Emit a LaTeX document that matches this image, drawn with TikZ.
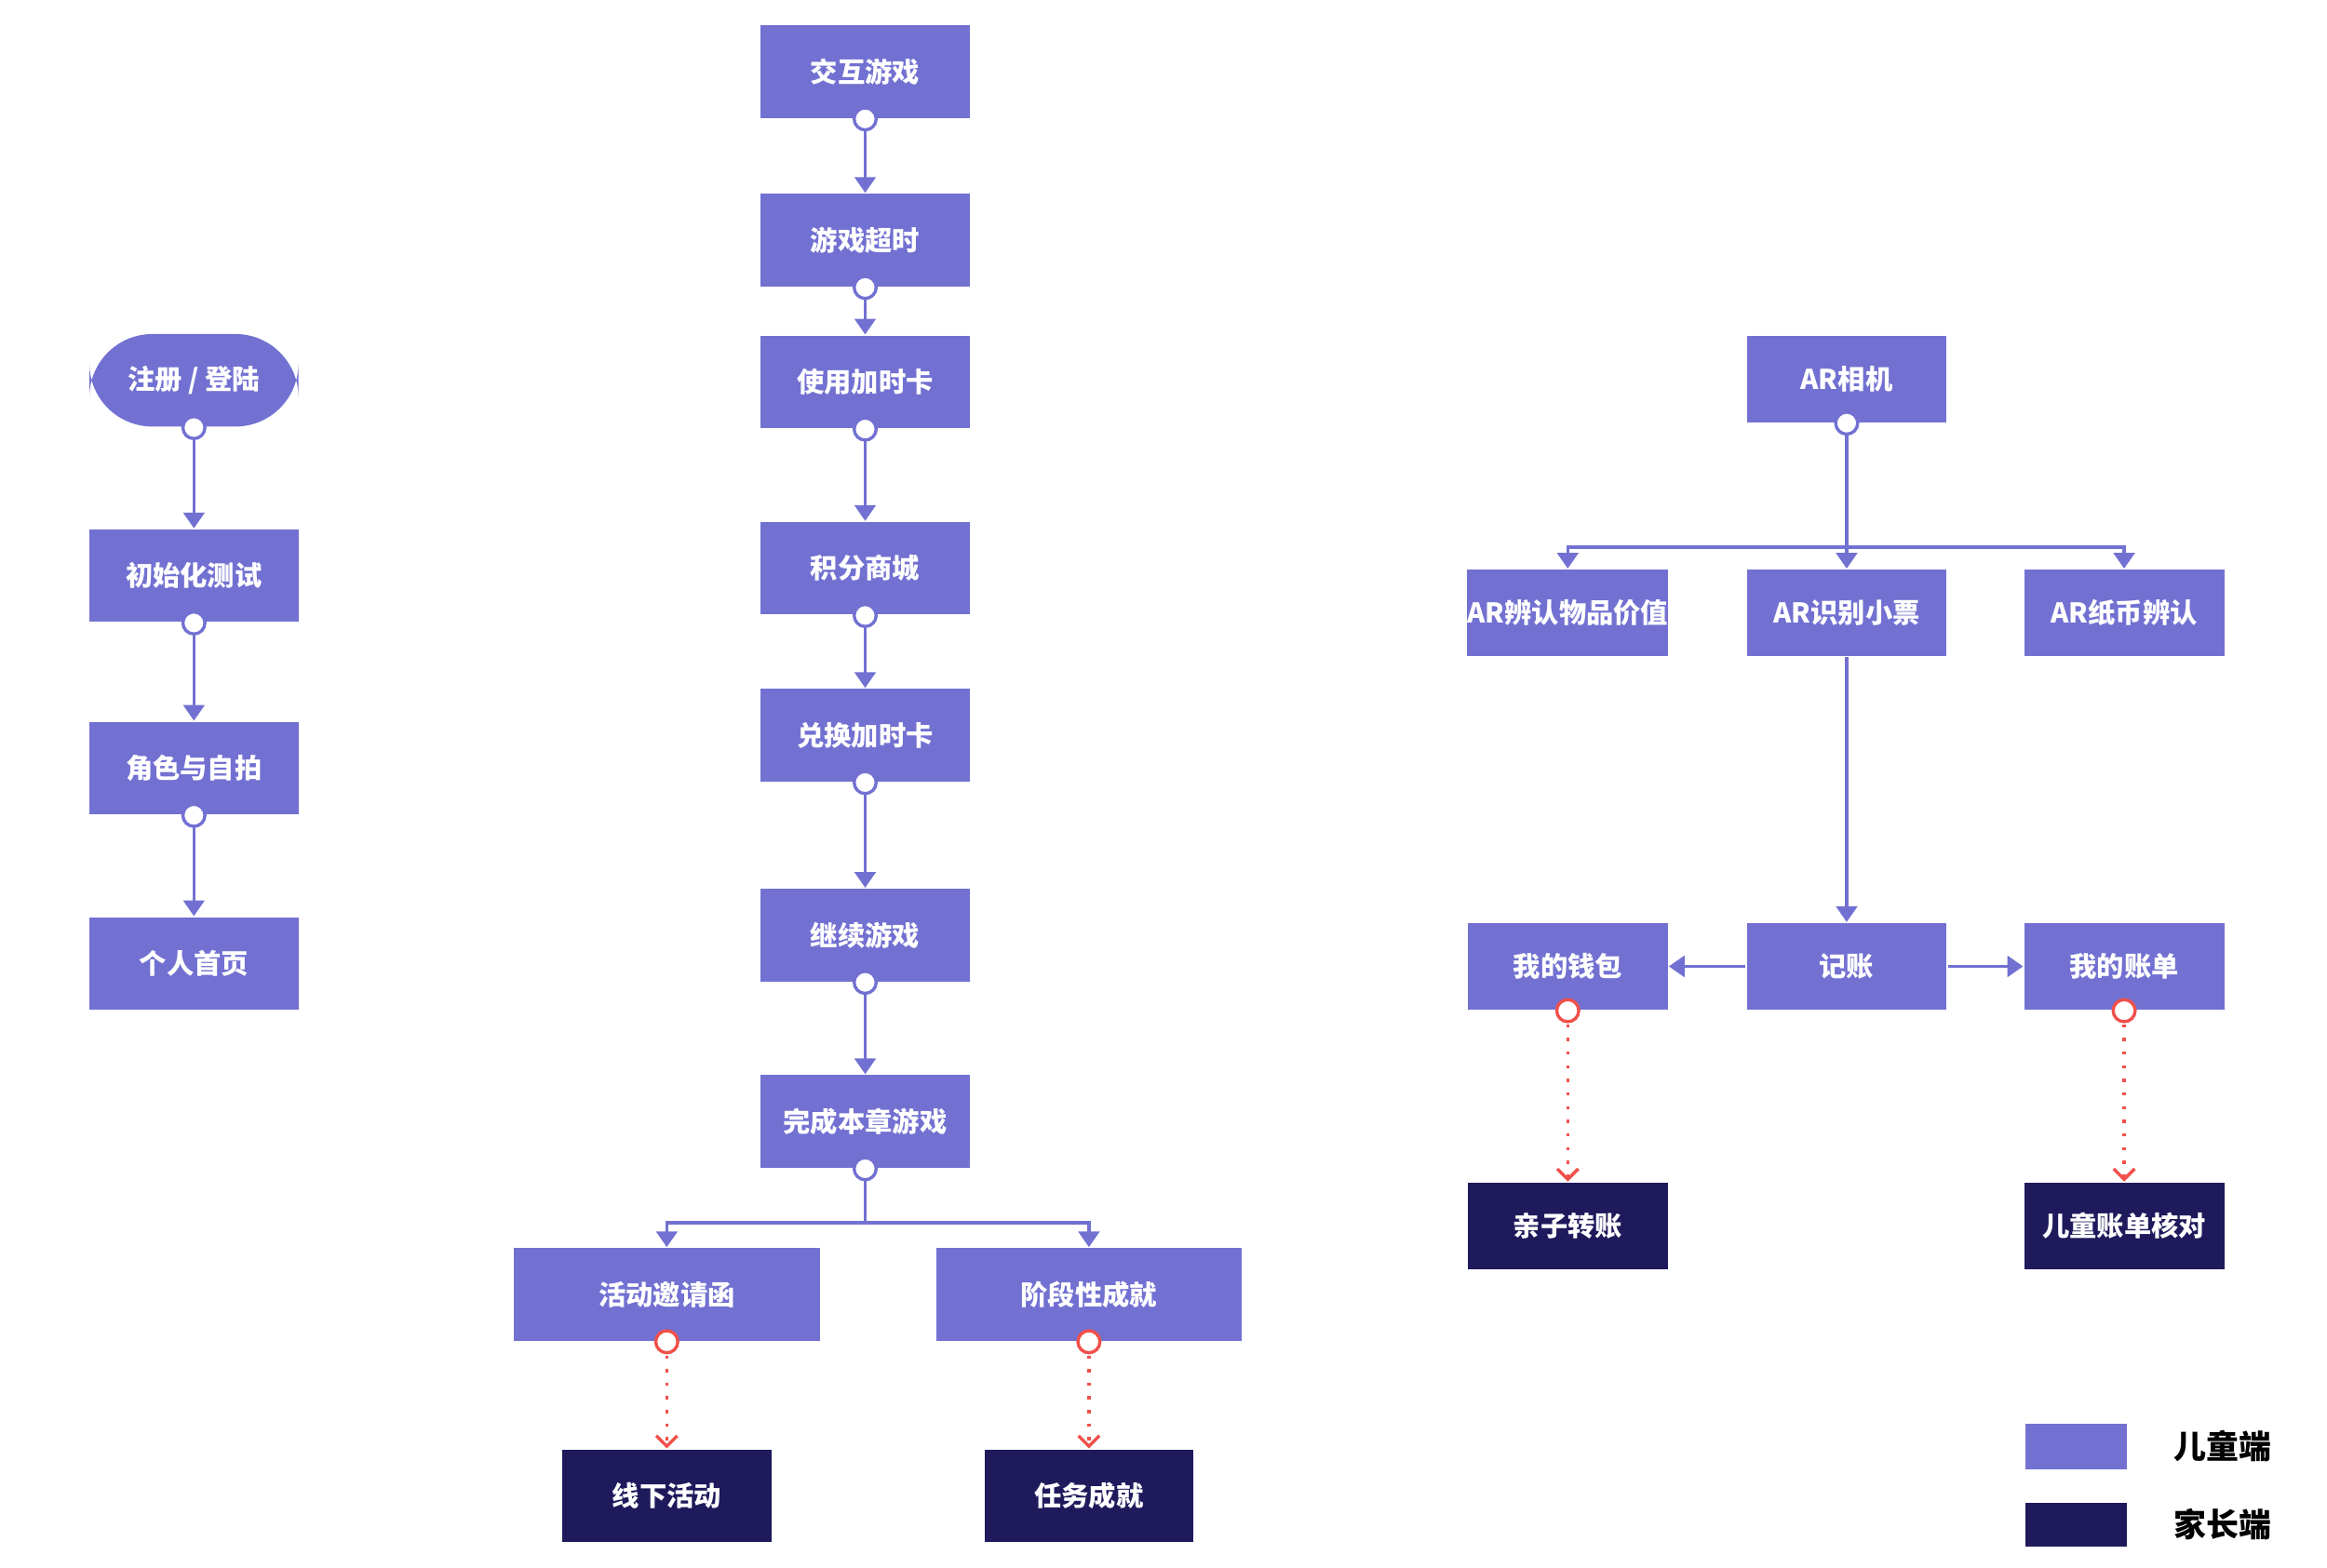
\documentclass[tikz,border=0pt]{standalone}
\usepackage{fontspec}
\setmainfont{Noto Sans CJK SC}
\usetikzlibrary{arrows.meta}
\definecolor{kidc}{HTML}{7271D2}
\definecolor{parc}{HTML}{1F1A5C}
\definecolor{redc}{HTML}{F0504A}
\tikzset{
  box/.style={minimum width=140\pgflinewidth,minimum height=62\pgflinewidth},
  kid/.style={fill=kidc,text=white,inner sep=0pt,font=\fontsize{5.2}{6}\selectfont\bfseries},
  par/.style={fill=parc,text=white,inner sep=0pt,font=\fontsize{5.2}{6}\selectfont\bfseries},
  link/.style={draw=kidc,line width=0.6pt,-{Triangle[length=3pt,width=4pt]}},
  dlink/.style={draw=redc,line width=0.6pt,dotted,-{Straight Barb[length=2pt,width=4pt,line width=0.6pt,sep=0pt]}},
  dot/.style={circle,draw=kidc,fill=white,line width=0.6pt,inner sep=0pt,minimum size=4.2pt},
  rdot/.style={dot,draw=redc},
}
\begin{document}
\begin{tikzpicture}[x=0.01cm,y=-0.01cm]
\useasboundingbox (0,0) rectangle (1560,1051);
% left column
\node[kid,rounded corners=12pt,minimum width=1.4cm,minimum height=0.62cm] (reg) at (130,255) {注册 / 登陆};
\node[kid,minimum width=1.4cm,minimum height=0.62cm] (init) at (130,386) {初始化测试};
\node[kid,minimum width=1.4cm,minimum height=0.62cm] (role) at (130,515) {角色与自拍};
\node[kid,minimum width=1.4cm,minimum height=0.62cm] (home) at (130,646) {个人首页};
% middle column
\node[kid,minimum width=1.4cm,minimum height=0.62cm] (game)   at (580,48)  {交互游戏};
\node[kid,minimum width=1.4cm,minimum height=0.62cm] (tout)   at (580,161) {游戏超时};
\node[kid,minimum width=1.4cm,minimum height=0.62cm] (usec)   at (580,256) {使用加时卡};
\node[kid,minimum width=1.4cm,minimum height=0.62cm] (shop)   at (580,381) {积分商城};
\node[kid,minimum width=1.4cm,minimum height=0.62cm] (swap)   at (580,493) {兑换加时卡};
\node[kid,minimum width=1.4cm,minimum height=0.62cm] (cont)   at (580,627) {继续游戏};
\node[kid,minimum width=1.4cm,minimum height=0.62cm] (done)   at (580,752) {完成本章游戏};
\node[kid,minimum width=2.05cm,minimum height=0.62cm] (invite) at (447,868) {活动邀请函};
\node[kid,minimum width=2.05cm,minimum height=0.62cm] (stage)  at (730,868) {阶段性成就};
\node[par,minimum width=1.4cm,minimum height=0.62cm] (offl)   at (447,1003) {线下活动};
\node[par,minimum width=1.4cm,minimum height=0.62cm] (task)   at (730,1003) {任务成就};
% right part
\node[kid,minimum width=1.34cm,minimum height=0.58cm] (cam)   at (1238,254) {AR相机};
\node[kid,minimum width=1.34cm,minimum height=0.58cm] (item)  at (1051,411) {AR辨认物品价值};
\node[kid,minimum width=1.34cm,minimum height=0.58cm] (rcpt)  at (1238,411) {AR识别小票};
\node[kid,minimum width=1.34cm,minimum height=0.58cm] (cash)  at (1424,411) {AR纸币辨认};
\node[kid,minimum width=1.34cm,minimum height=0.58cm] (book)  at (1238,648) {记账};
\node[kid,minimum width=1.34cm,minimum height=0.58cm] (wallet) at (1051,648) {我的钱包};
\node[kid,minimum width=1.34cm,minimum height=0.58cm] (bill)  at (1424,648) {我的账单};
\node[par,minimum width=1.34cm,minimum height=0.58cm] (trans) at (1051,822) {亲子转账};
\node[par,minimum width=1.34cm,minimum height=0.58cm] (check) at (1424,822) {儿童账单核对};
% straight links
\foreach \a/\b in {reg/init,init/role,role/home,game/tout,tout/usec,usec/shop,shop/swap,swap/cont,cont/done}
  \draw[link] (\a.south) -- (\b.north);
\draw[link] (done.south) |- (580,820) -| (invite.north);
\draw[link] (done.south) |- (580,820) -| (stage.north);
\draw[link] (cam.south) |- (1238,367) -| (item.north);
\draw[link] (cam.south) |- (1238,367) -| (cash.north);
\draw[link] (cam.south) -- (rcpt.north);
\draw[link] (rcpt.south) -- (book.north);
\draw[link] (book.west) -- (wallet.east);
\draw[link] (book.east) -- (bill.west);
\foreach \a in {reg,init,role,game,tout,usec,shop,swap,cont,done,cam}
  \node[dot] at (\a.south) {};
% parent links
\foreach \a/\b in {invite/offl,stage/task,wallet/trans,bill/check}{
  \draw[dlink] (\a.south) -- (\b.north);
  \node[rdot] at (\a.south) {};
}
% legend
\fill[kidc] (1358,955) rectangle (1426,985);
\fill[parc] (1358,1008) rectangle (1426,1037);
\node[font=\fontsize{6.2}{7}\selectfont\bfseries,anchor=west] (lk) at (1445,970) {儿童端};
\node[font=\fontsize{6.2}{7}\selectfont\bfseries,anchor=west] (lp) at (1445,1022) {家长端};
\end{tikzpicture}
\end{document}
